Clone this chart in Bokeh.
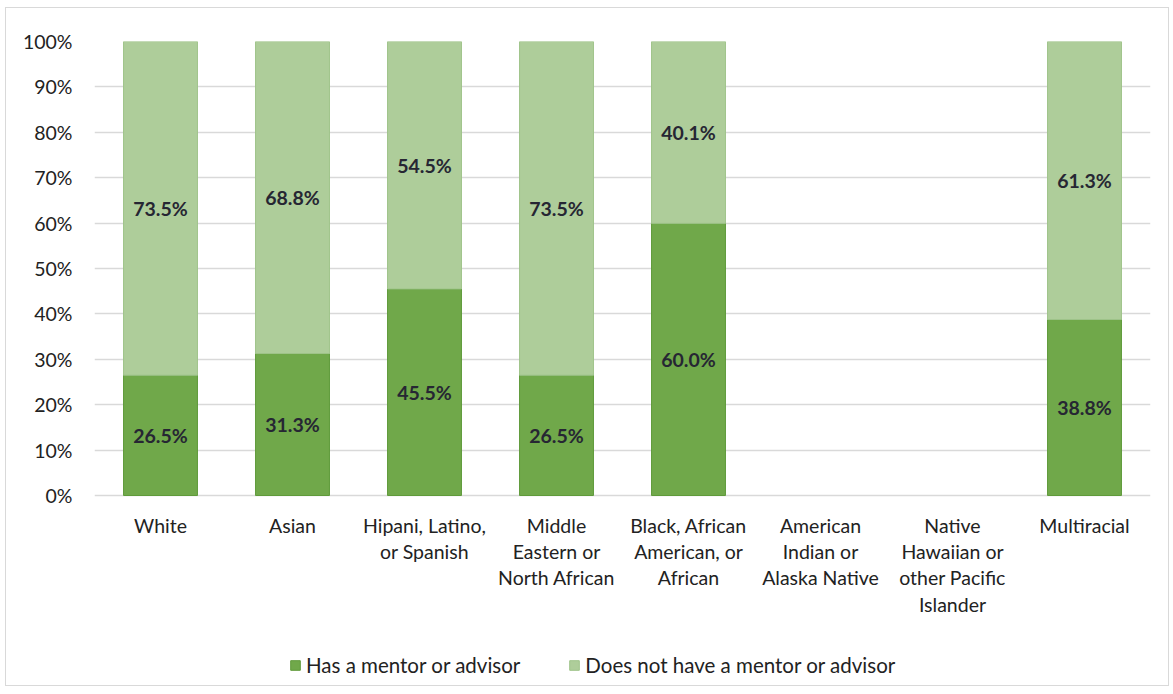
from bokeh.plotting import figure
from bokeh.models import ColumnDataSource, NumeralTickFormatter, FixedTicker, Legend, LegendItem, LabelSet
from bokeh.core.properties import value
from bokeh.embed import file_html
from bokeh.resources import INLINE

categories = ["White", "Asian", "Hipani, Latino,\nor Spanish", "Middle\nEastern or\nNorth African",
              "Black, African\nAmerican, or\nAfrican", "American\nIndian or\nAlaska Native",
              "Native\nHawaiian or\nother Pacific\nIslander", "Multiracial"]
has_mentor = [26.5, 31.3, 45.5, 26.5, 60.0, 0.0, 0.0, 38.8]
no_mentor = [73.5, 68.8, 54.5, 73.5, 40.1, 0.0, 0.0, 61.3]
y_ticks = [0, 0.1, 0.2, 0.3, 0.4, 0.5, 0.6, 0.7, 0.8, 0.9, 1.0]

DARK = "#70a84a"
LIGHT = "#aecd9a"
DARK_EDGE = "#5f9a3a"
LIGHT_EDGE = "#9fc48a"
NONE = "rgba(0,0,0,0)"
FONT = "Lato"

PLOT_H = 454      # pixels for 0..100%
FRAME_H = 640     # frame extends below 0% to hold the category labels and legend
y_start = 1 - FRAME_H / PLOT_H

tot = [a + b for a, b in zip(has_mentor, no_mentor)]
has_f = [a / t if t else 0 for a, t in zip(has_mentor, tot)]
no_f = [b / t if t else 0 for b, t in zip(no_mentor, tot)]

src = ColumnDataSource(dict(cat=categories, has=has_f, no=no_f,
                            lc_has=[DARK_EDGE if v > 0 else NONE for v in has_mentor],
                            lc_no=[LIGHT_EDGE if v > 0 else NONE for v in no_mentor]))

p = figure(x_range=categories, y_range=(y_start, 1), frame_width=1056, frame_height=FRAME_H,
           output_backend="svg", toolbar_location=None,
           min_border_left=88, min_border_right=18, min_border_top=33, min_border_bottom=4)
p.outline_line_color = None

r = p.vbar_stack(["has", "no"], x="cat", width=0.56, source=src,
                 fill_color=[DARK, LIGHT], line_color=["lc_has", "lc_no"], line_width=1)

# labels
lab_x, lab_y, lab_t = [], [], []
for c, a, b, fa, fb in zip(categories, has_mentor, no_mentor, has_f, no_f):
    if a > 0:
        lab_x.append(c); lab_y.append(fa / 2); lab_t.append(f"{a:.1f}%")
    if b > 0:
        lab_x.append(c); lab_y.append(fa + fb / 2); lab_t.append(f"{b:.1f}%")
lsrc = ColumnDataSource(dict(x=lab_x, y=lab_y, t=lab_t))
labels = LabelSet(x="x", y="y", text="t", source=lsrc, text_align="center", text_baseline="middle",
                  text_font=value(FONT), text_font_style="bold", text_font_size="19.5px",
                  text_color="#262633")
p.add_layout(labels)

p.yaxis.ticker = FixedTicker(ticks=y_ticks)
p.yaxis.formatter = NumeralTickFormatter(format="0%")
for ax in (p.xaxis, p.yaxis):
    ax.axis_line_color = None
    ax.major_tick_line_color = None
    ax.minor_tick_line_color = None
    ax.major_label_text_font = FONT
    ax.major_label_text_font_size = "19.5px"
    ax.major_label_text_color = "#222222"
p.xaxis.fixed_location = 0
p.xaxis.major_label_standoff = 12
p.xaxis.major_label_text_line_height = 1.15
p.yaxis.major_label_standoff = 16
p.xgrid.grid_line_color = None
p.ygrid.grid_line_color = "#d9d9d9"
p.ygrid.grid_line_width = 1.5

legend = Legend(items=[LegendItem(label="Has a mentor or advisor", renderers=[r[0]]),
                       LegendItem(label="Does not have a mentor or advisor", renderers=[r[1]])],
                orientation="horizontal", location=(195, 4),
                label_text_font=FONT, label_text_font_size="20.5px", label_text_color="#222222",
                glyph_width=12, glyph_height=12, spacing=48, border_line_color=None,
                background_fill_alpha=0, label_standoff=5, padding=6, margin=0)
p.add_layout(legend, "center")
p.styles = {"border": "1.5px solid #d9d9d9", "margin-left": "5px", "margin-top": "7px"}

open("out.html", "w").write(file_html(p, INLINE))
